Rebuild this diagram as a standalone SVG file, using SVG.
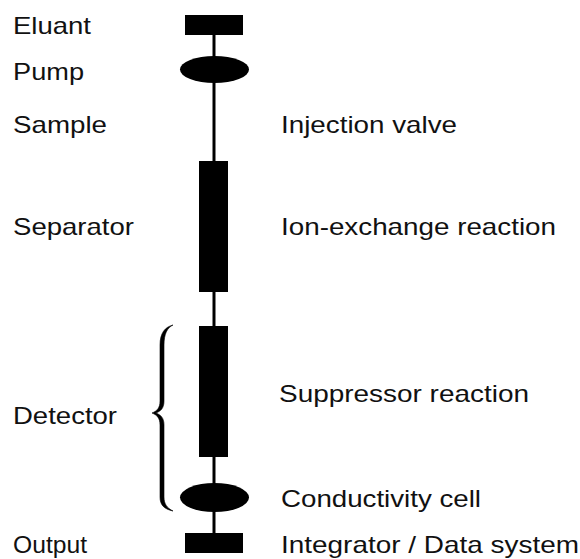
<svg xmlns="http://www.w3.org/2000/svg" width="580" height="559" viewBox="0 0 580 559">
  <style>
    .lbl { font-family: "Liberation Sans", Arial, sans-serif; font-size: 24px; fill: #111; }
    .part { fill: #000; }
    .pipe { stroke: #000; stroke-width: 3; fill: none; }
    .brace { fill: #000; stroke: #000; stroke-width: 0.6; stroke-linejoin: round; }
  </style>
  <rect width="580" height="559" fill="#fff"/>

  <!-- flow line between components -->
  <g id="connectors">
    <line class="pipe" x1="214" y1="35" x2="214" y2="57"/>
    <line class="pipe" x1="214" y1="82" x2="214" y2="161"/>
    <line class="pipe" x1="214" y1="292" x2="214" y2="326"/>
    <line class="pipe" x1="214" y1="457" x2="214" y2="484"/>
    <line class="pipe" x1="214" y1="511" x2="214" y2="533"/>
  </g>

  <g id="eluant">
    <rect class="part" x="185" y="15" width="58" height="20"/>
    <text class="lbl" x="13" y="34" textLength="78" lengthAdjust="spacingAndGlyphs">Eluant</text>
  </g>

  <g id="pump">
    <ellipse class="part" cx="214.5" cy="69.5" rx="34.5" ry="13.5"/>
    <text class="lbl" x="13" y="80" textLength="71" lengthAdjust="spacingAndGlyphs">Pump</text>
  </g>

  <g id="sample">
    <text class="lbl" x="13" y="133" textLength="94" lengthAdjust="spacingAndGlyphs">Sample</text>
    <text class="lbl" x="281" y="133" textLength="176" lengthAdjust="spacingAndGlyphs">Injection valve</text>
  </g>

  <g id="separator">
    <rect class="part" x="199" y="161" width="29" height="131"/>
    <text class="lbl" x="13" y="235" textLength="121" lengthAdjust="spacingAndGlyphs">Separator</text>
    <text class="lbl" x="281" y="235" textLength="275" lengthAdjust="spacingAndGlyphs">Ion-exchange reaction</text>
  </g>

  <g id="suppressor">
    <rect class="part" x="199" y="326" width="29" height="131"/>
    <text class="lbl" x="279" y="402" textLength="250" lengthAdjust="spacingAndGlyphs">Suppressor reaction</text>
  </g>

  <g id="cell">
    <ellipse class="part" cx="214.5" cy="497.5" rx="34.5" ry="14.5"/>
    <text class="lbl" x="281" y="507" textLength="200" lengthAdjust="spacingAndGlyphs">Conductivity cell</text>
  </g>

  <g id="detector">
    <!-- curly brace grouping suppressor and cell, drawn as a filled calligraphic shape -->
    <path class="brace" d="M173,325 C165,327 160,333 160,345 L160,401 C160,408 157,411 152,413 C157,415 160,418 160,425 L160,497 C160,505 164,509 173,511 C167,508 164,504 164,497 L164,425 C164,418 161,415 156,413 C161,411 164,408 164,401 L164,345 C164,334 167,328 173,325 Z"/>
    <text class="lbl" x="13" y="424" textLength="104" lengthAdjust="spacingAndGlyphs">Detector</text>
  </g>

  <g id="output">
    <rect class="part" x="185" y="533" width="58" height="20"/>
    <text class="lbl" x="13" y="553" textLength="74" lengthAdjust="spacingAndGlyphs">Output</text>
    <text class="lbl" x="281" y="553" textLength="298" lengthAdjust="spacingAndGlyphs">Integrator / Data system</text>
  </g>
</svg>
